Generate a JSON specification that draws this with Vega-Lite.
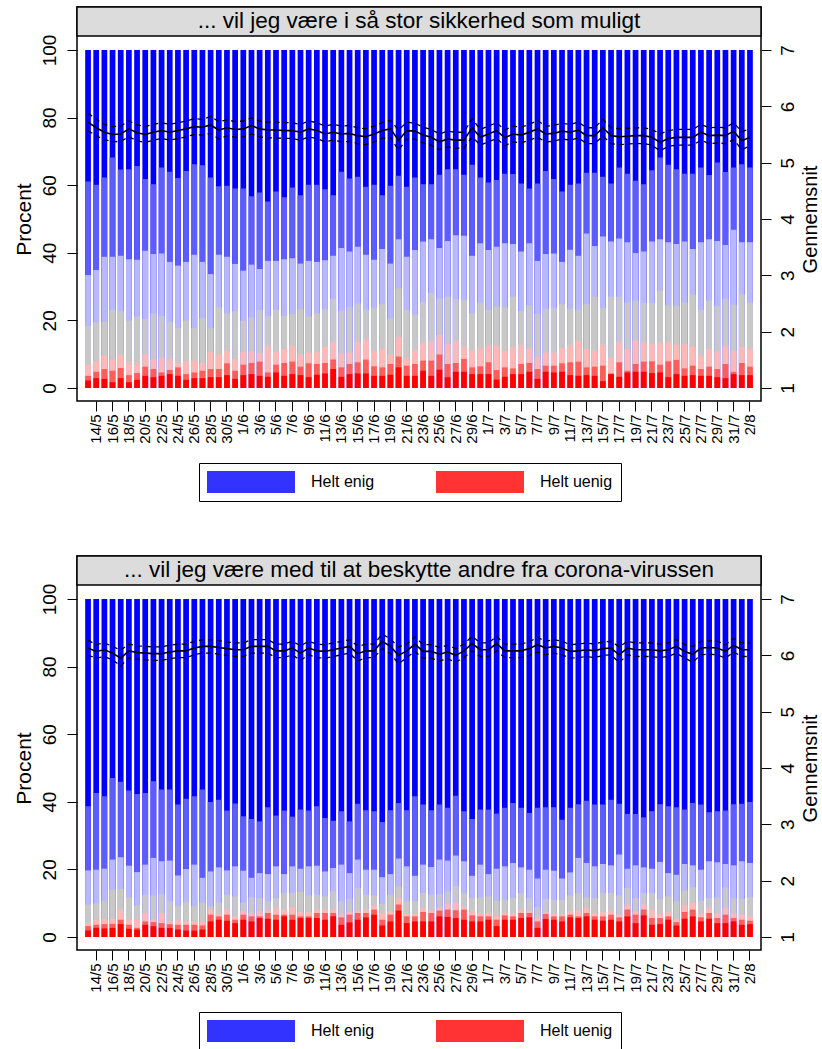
{
"$schema": "https://vega.github.io/schema/vega-lite/v6.json",
"padding": {"left": 12, "top": 5, "right": 2, "bottom": 2},
"bounds": "flush",
"spacing": 155,
"datasets": {
"p1": [
{"d":"13/5","c1":2.2,"c2":3.6,"c3":6.9,"c4":18.4,"c5":33.4,"c6":61.1,"c7":100,"m":5.72,"lo":5.57,"hi":5.88},
{"d":"14/5","c1":2.9,"c2":4.8,"c3":7.9,"c4":19.4,"c5":34.9,"c6":60.1,"c7":100,"m":5.62,"lo":5.48,"hi":5.77},
{"d":"15/5","c1":2.7,"c2":5.6,"c3":9.6,"c4":19.6,"c5":38.8,"c6":62.3,"c7":100,"m":5.54,"lo":5.41,"hi":5.68},
{"d":"16/5","c1":1.7,"c2":5.1,"c3":8.4,"c4":23.1,"c5":38.8,"c6":68.2,"c7":100,"m":5.50,"lo":5.37,"hi":5.64},
{"d":"17/5","c1":2.9,"c2":5.9,"c3":9.9,"c4":22.7,"c5":39.1,"c6":64.6,"c7":100,"m":5.51,"lo":5.38,"hi":5.65},
{"d":"18/5","c1":1.7,"c2":3.8,"c3":7.6,"c4":19.9,"c5":38.1,"c6":64.7,"c7":100,"m":5.60,"lo":5.46,"hi":5.74},
{"d":"19/5","c1":2.4,"c2":4.4,"c3":7.4,"c4":21.1,"c5":37.9,"c6":65.7,"c7":100,"m":5.53,"lo":5.39,"hi":5.67},
{"d":"20/5","c1":3.6,"c2":6.3,"c3":9.9,"c4":20.4,"c5":40.6,"c6":61.8,"c7":100,"m":5.50,"lo":5.36,"hi":5.64},
{"d":"21/5","c1":3.2,"c2":5.6,"c3":8.4,"c4":22.1,"c5":39.6,"c6":60.3,"c7":100,"m":5.54,"lo":5.40,"hi":5.68},
{"d":"22/5","c1":3.6,"c2":4.6,"c3":8.9,"c4":21.3,"c5":39.8,"c6":65.2,"c7":100,"m":5.57,"lo":5.43,"hi":5.71},
{"d":"23/5","c1":4.1,"c2":5.3,"c3":8.6,"c4":19.6,"c5":37.3,"c6":64.0,"c7":100,"m":5.54,"lo":5.40,"hi":5.68},
{"d":"24/5","c1":3.6,"c2":6.1,"c3":7.3,"c4":17.7,"c5":36.2,"c6":62.1,"c7":100,"m":5.57,"lo":5.43,"hi":5.71},
{"d":"25/5","c1":2.4,"c2":4.1,"c3":7.9,"c4":19.9,"c5":37.3,"c6":64.2,"c7":100,"m":5.60,"lo":5.46,"hi":5.74},
{"d":"26/5","c1":2.9,"c2":4.6,"c3":8.1,"c4":17.7,"c5":39.4,"c6":66.2,"c7":100,"m":5.64,"lo":5.50,"hi":5.78},
{"d":"27/5","c1":2.9,"c2":5.1,"c3":7.3,"c4":20.7,"c5":37.3,"c6":65.9,"c7":100,"m":5.63,"lo":5.49,"hi":5.77},
{"d":"28/5","c1":3.2,"c2":5.6,"c3":10.7,"c4":17.7,"c5":33.7,"c6":62.3,"c7":100,"m":5.67,"lo":5.52,"hi":5.82},
{"d":"29/5","c1":3.2,"c2":5.6,"c3":10.0,"c4":23.8,"c5":39.4,"c6":59.7,"c7":100,"m":5.58,"lo":5.42,"hi":5.73},
{"d":"30/5","c1":3.8,"c2":7.3,"c3":11.0,"c4":22.1,"c5":38.8,"c6":59.8,"c7":100,"m":5.62,"lo":5.48,"hi":5.76},
{"d":"31/5","c1":2.7,"c2":5.1,"c3":8.6,"c4":22.7,"c5":36.7,"c6":59.0,"c7":100,"m":5.59,"lo":5.45,"hi":5.73},
{"d":"1/6","c1":3.8,"c2":6.9,"c3":10.7,"c4":19.9,"c5":34.7,"c6":59.0,"c7":100,"m":5.60,"lo":5.46,"hi":5.74},
{"d":"2/6","c1":4.1,"c2":7.4,"c3":10.8,"c4":20.9,"c5":36.5,"c6":56.7,"c7":100,"m":5.66,"lo":5.51,"hi":5.80},
{"d":"3/6","c1":3.6,"c2":7.8,"c3":10.3,"c4":23.1,"c5":35.2,"c6":57.8,"c7":100,"m":5.60,"lo":5.46,"hi":5.74},
{"d":"4/6","c1":3.3,"c2":4.6,"c3":12.5,"c4":21.3,"c5":37.6,"c6":55.2,"c7":100,"m":5.58,"lo":5.44,"hi":5.72},
{"d":"5/6","c1":4.6,"c2":6.9,"c3":10.7,"c4":23.1,"c5":37.6,"c6":58.1,"c7":100,"m":5.58,"lo":5.44,"hi":5.72},
{"d":"6/6","c1":3.6,"c2":7.4,"c3":11.5,"c4":21.3,"c5":38.1,"c6":56.4,"c7":100,"m":5.57,"lo":5.43,"hi":5.71},
{"d":"7/6","c1":4.1,"c2":7.8,"c3":12.5,"c4":21.9,"c5":38.4,"c6":59.3,"c7":100,"m":5.57,"lo":5.43,"hi":5.71},
{"d":"8/6","c1":3.8,"c2":6.3,"c3":10.0,"c4":23.3,"c5":36.8,"c6":57.0,"c7":100,"m":5.54,"lo":5.40,"hi":5.68},
{"d":"9/6","c1":3.2,"c2":7.3,"c3":10.5,"c4":21.1,"c5":37.6,"c6":60.1,"c7":100,"m":5.60,"lo":5.46,"hi":5.74},
{"d":"10/6","c1":3.9,"c2":7.1,"c3":10.5,"c4":22.1,"c5":37.3,"c6":60.1,"c7":100,"m":5.57,"lo":5.43,"hi":5.71},
{"d":"11/6","c1":4.3,"c2":7.4,"c3":12.2,"c4":23.3,"c5":37.8,"c6":58.8,"c7":100,"m":5.51,"lo":5.37,"hi":5.65},
{"d":"12/6","c1":5.6,"c2":8.4,"c3":13.5,"c4":26.3,"c5":39.1,"c6":57.0,"c7":100,"m":5.54,"lo":5.40,"hi":5.68},
{"d":"13/6","c1":3.3,"c2":6.1,"c3":10.2,"c4":22.9,"c5":41.4,"c6":64.0,"c7":100,"m":5.51,"lo":5.37,"hi":5.65},
{"d":"14/6","c1":4.1,"c2":7.1,"c3":10.5,"c4":24.0,"c5":40.4,"c6":62.0,"c7":100,"m":5.52,"lo":5.38,"hi":5.66},
{"d":"15/6","c1":4.3,"c2":7.6,"c3":13.5,"c4":25.0,"c5":41.8,"c6":62.5,"c7":100,"m":5.48,"lo":5.34,"hi":5.62},
{"d":"16/6","c1":4.3,"c2":8.4,"c3":14.4,"c4":23.1,"c5":39.4,"c6":59.5,"c7":100,"m":5.46,"lo":5.32,"hi":5.60},
{"d":"17/6","c1":3.6,"c2":6.4,"c3":11.0,"c4":23.8,"c5":37.9,"c6":60.1,"c7":100,"m":5.51,"lo":5.37,"hi":5.65},
{"d":"18/6","c1":3.6,"c2":6.1,"c3":11.5,"c4":24.8,"c5":41.1,"c6":57.0,"c7":100,"m":5.57,"lo":5.43,"hi":5.71},
{"d":"19/6","c1":3.9,"c2":7.1,"c3":9.9,"c4":20.6,"c5":36.8,"c6":59.8,"c7":100,"m":5.60,"lo":5.45,"hi":5.75},
{"d":"20/6","c1":6.1,"c2":9.3,"c3":15.0,"c4":29.5,"c5":44.0,"c6":62.8,"c7":100,"m":5.40,"lo":5.22,"hi":5.58},
{"d":"21/6","c1":3.6,"c2":6.6,"c3":8.6,"c4":23.1,"c5":38.8,"c6":59.5,"c7":100,"m":5.57,"lo":5.42,"hi":5.72},
{"d":"22/6","c1":3.6,"c2":7.1,"c3":11.2,"c4":21.7,"c5":40.8,"c6":62.3,"c7":100,"m":5.56,"lo":5.42,"hi":5.70},
{"d":"23/6","c1":5.1,"c2":8.1,"c3":13.5,"c4":25.5,"c5":43.3,"c6":60.3,"c7":100,"m":5.49,"lo":5.35,"hi":5.63},
{"d":"24/6","c1":3.6,"c2":8.1,"c3":13.7,"c4":28.1,"c5":44.0,"c6":60.3,"c7":100,"m":5.45,"lo":5.31,"hi":5.59},
{"d":"25/6","c1":5.4,"c2":9.9,"c3":15.7,"c4":26.5,"c5":41.4,"c6":63.1,"c7":100,"m":5.37,"lo":5.23,"hi":5.51},
{"d":"26/6","c1":3.2,"c2":7.1,"c3":13.0,"c4":27.0,"c5":43.5,"c6":64.7,"c7":100,"m":5.42,"lo":5.28,"hi":5.56},
{"d":"27/6","c1":4.8,"c2":7.4,"c3":14.0,"c4":26.3,"c5":45.2,"c6":64.7,"c7":100,"m":5.40,"lo":5.26,"hi":5.54},
{"d":"28/6","c1":4.8,"c2":8.6,"c3":12.2,"c4":26.1,"c5":45.0,"c6":63.1,"c7":100,"m":5.40,"lo":5.26,"hi":5.54},
{"d":"29/6","c1":4.1,"c2":6.1,"c3":11.2,"c4":22.1,"c5":39.1,"c6":66.0,"c7":100,"m":5.62,"lo":5.46,"hi":5.78},
{"d":"30/6","c1":4.1,"c2":6.4,"c3":11.8,"c4":25.3,"c5":42.8,"c6":62.3,"c7":100,"m":5.45,"lo":5.31,"hi":5.59},
{"d":"1/7","c1":4.1,"c2":7.6,"c3":12.5,"c4":23.1,"c5":40.8,"c6":60.8,"c7":100,"m":5.51,"lo":5.37,"hi":5.65},
{"d":"2/7","c1":2.5,"c2":5.3,"c3":12.5,"c4":24.0,"c5":41.8,"c6":61.5,"c7":100,"m":5.57,"lo":5.43,"hi":5.71},
{"d":"3/7","c1":3.3,"c2":6.1,"c3":11.0,"c4":23.8,"c5":42.8,"c6":63.4,"c7":100,"m":5.44,"lo":5.30,"hi":5.58},
{"d":"4/7","c1":4.1,"c2":5.8,"c3":12.0,"c4":27.0,"c5":42.6,"c6":63.3,"c7":100,"m":5.51,"lo":5.37,"hi":5.65},
{"d":"5/7","c1":4.1,"c2":7.1,"c3":12.8,"c4":22.7,"c5":40.4,"c6":60.5,"c7":100,"m":5.49,"lo":5.35,"hi":5.63},
{"d":"6/7","c1":4.8,"c2":7.4,"c3":11.7,"c4":24.5,"c5":42.8,"c6":59.0,"c7":100,"m":5.54,"lo":5.40,"hi":5.68},
{"d":"7/7","c1":2.7,"c2":5.6,"c3":9.1,"c4":21.9,"c5":37.6,"c6":60.5,"c7":100,"m":5.60,"lo":5.45,"hi":5.75},
{"d":"8/7","c1":4.8,"c2":6.6,"c3":10.5,"c4":23.5,"c5":39.6,"c6":64.2,"c7":100,"m":5.51,"lo":5.37,"hi":5.65},
{"d":"9/7","c1":4.6,"c2":6.6,"c3":10.5,"c4":23.8,"c5":39.8,"c6":61.8,"c7":100,"m":5.52,"lo":5.38,"hi":5.66},
{"d":"10/7","c1":4.8,"c2":7.3,"c3":11.8,"c4":24.8,"c5":37.3,"c6":58.1,"c7":100,"m":5.56,"lo":5.42,"hi":5.70},
{"d":"11/7","c1":3.8,"c2":7.6,"c3":12.5,"c4":23.5,"c5":40.9,"c6":60.1,"c7":100,"m":5.54,"lo":5.40,"hi":5.68},
{"d":"12/7","c1":3.6,"c2":7.8,"c3":14.0,"c4":23.1,"c5":39.1,"c6":60.5,"c7":100,"m":5.58,"lo":5.44,"hi":5.72},
{"d":"13/7","c1":3.8,"c2":6.1,"c3":11.5,"c4":24.8,"c5":45.7,"c6":63.7,"c7":100,"m":5.48,"lo":5.34,"hi":5.62},
{"d":"14/7","c1":3.6,"c2":6.3,"c3":11.0,"c4":27.0,"c5":42.0,"c6":63.7,"c7":100,"m":5.48,"lo":5.34,"hi":5.62},
{"d":"15/7","c1":2.0,"c2":6.6,"c3":12.8,"c4":23.6,"c5":44.8,"c6":62.5,"c7":100,"m":5.62,"lo":5.47,"hi":5.77},
{"d":"16/7","c1":4.1,"c2":4.3,"c3":8.9,"c4":27.0,"c5":43.3,"c6":60.5,"c7":100,"m":5.48,"lo":5.34,"hi":5.62},
{"d":"17/7","c1":3.3,"c2":7.6,"c3":13.7,"c4":27.0,"c5":44.2,"c6":65.2,"c7":100,"m":5.46,"lo":5.32,"hi":5.60},
{"d":"18/7","c1":4.6,"c2":5.1,"c3":11.5,"c4":25.3,"c5":43.1,"c6":63.4,"c7":100,"m":5.47,"lo":5.33,"hi":5.61},
{"d":"19/7","c1":4.8,"c2":7.1,"c3":14.0,"c4":25.8,"c5":39.9,"c6":61.3,"c7":100,"m":5.48,"lo":5.34,"hi":5.62},
{"d":"20/7","c1":4.8,"c2":7.8,"c3":13.5,"c4":25.2,"c5":40.4,"c6":60.3,"c7":100,"m":5.48,"lo":5.34,"hi":5.62},
{"d":"21/7","c1":4.4,"c2":7.9,"c3":13.0,"c4":25.2,"c5":43.3,"c6":64.4,"c7":100,"m":5.45,"lo":5.31,"hi":5.59},
{"d":"22/7","c1":4.6,"c2":6.9,"c3":13.4,"c4":28.8,"c5":44.0,"c6":68.2,"c7":100,"m":5.36,"lo":5.21,"hi":5.51},
{"d":"23/7","c1":3.2,"c2":7.9,"c3":13.5,"c4":24.5,"c5":43.1,"c6":66.0,"c7":100,"m":5.43,"lo":5.29,"hi":5.57},
{"d":"24/7","c1":4.1,"c2":8.3,"c3":12.8,"c4":24.3,"c5":42.6,"c6":64.7,"c7":100,"m":5.45,"lo":5.31,"hi":5.59},
{"d":"25/7","c1":3.6,"c2":5.8,"c3":13.0,"c4":25.3,"c5":43.3,"c6":63.4,"c7":100,"m":5.45,"lo":5.31,"hi":5.59},
{"d":"26/7","c1":3.8,"c2":6.6,"c3":12.2,"c4":27.6,"c5":41.1,"c6":63.4,"c7":100,"m":5.45,"lo":5.31,"hi":5.59},
{"d":"27/7","c1":3.6,"c2":5.6,"c3":9.6,"c4":23.1,"c5":43.1,"c6":65.2,"c7":100,"m":5.54,"lo":5.40,"hi":5.68},
{"d":"28/7","c1":3.6,"c2":6.3,"c3":11.5,"c4":25.8,"c5":44.0,"c6":63.0,"c7":100,"m":5.48,"lo":5.34,"hi":5.62},
{"d":"29/7","c1":3.2,"c2":5.6,"c3":10.8,"c4":24.3,"c5":43.5,"c6":66.7,"c7":100,"m":5.49,"lo":5.35,"hi":5.63},
{"d":"30/7","c1":2.9,"c2":7.1,"c3":12.5,"c4":26.3,"c5":42.3,"c6":63.9,"c7":100,"m":5.48,"lo":5.34,"hi":5.62},
{"d":"31/7","c1":4.1,"c2":4.8,"c3":11.0,"c4":24.6,"c5":46.8,"c6":65.2,"c7":100,"m":5.56,"lo":5.41,"hi":5.71},
{"d":"1/8","c1":3.8,"c2":7.4,"c3":12.2,"c4":27.6,"c5":43.1,"c6":66.2,"c7":100,"m":5.39,"lo":5.23,"hi":5.55},
{"d":"2/8","c1":3.8,"c2":6.3,"c3":11.5,"c4":25.3,"c5":43.1,"c6":65.2,"c7":100,"m":5.45,"lo":5.30,"hi":5.60}
],
"p2": [
{"d":"13/5","c1":1.9,"c2":3.2,"c3":4.1,"c4":9.6,"c5":19.7,"c6":38.7,"c7":100,"m":6.13,"lo":6.00,"hi":6.27},
{"d":"14/5","c1":2.7,"c2":3.6,"c3":5.1,"c4":9.9,"c5":19.9,"c6":42.6,"c7":100,"m":6.07,"lo":5.95,"hi":6.19},
{"d":"15/5","c1":2.5,"c2":3.8,"c3":5.4,"c4":10.6,"c5":20.2,"c6":41.6,"c7":100,"m":6.10,"lo":5.98,"hi":6.22},
{"d":"16/5","c1":2.7,"c2":3.9,"c3":5.3,"c4":14.0,"c5":22.9,"c6":47.0,"c7":100,"m":6.04,"lo":5.92,"hi":6.16},
{"d":"17/5","c1":3.8,"c2":5.1,"c3":8.1,"c4":14.2,"c5":23.6,"c6":45.9,"c7":100,"m":5.95,"lo":5.81,"hi":6.09},
{"d":"18/5","c1":2.4,"c2":3.6,"c3":5.1,"c4":11.7,"c5":21.1,"c6":43.3,"c7":100,"m":6.08,"lo":5.96,"hi":6.20},
{"d":"19/5","c1":2.2,"c2":2.7,"c3":5.1,"c4":9.4,"c5":19.2,"c6":42.3,"c7":100,"m":6.05,"lo":5.93,"hi":6.17},
{"d":"20/5","c1":3.6,"c2":4.6,"c3":7.1,"c4":12.5,"c5":21.4,"c6":42.6,"c7":100,"m":6.04,"lo":5.92,"hi":6.16},
{"d":"21/5","c1":3.2,"c2":4.4,"c3":5.1,"c4":12.3,"c5":23.4,"c6":46.1,"c7":100,"m":6.03,"lo":5.91,"hi":6.15},
{"d":"22/5","c1":2.7,"c2":4.1,"c3":7.1,"c4":12.7,"c5":22.4,"c6":43.6,"c7":100,"m":6.03,"lo":5.91,"hi":6.15},
{"d":"23/5","c1":2.7,"c2":3.8,"c3":4.6,"c4":10.6,"c5":22.6,"c6":43.6,"c7":100,"m":6.06,"lo":5.94,"hi":6.18},
{"d":"24/5","c1":2.2,"c2":3.6,"c3":5.1,"c4":9.1,"c5":18.2,"c6":39.2,"c7":100,"m":6.08,"lo":5.96,"hi":6.20},
{"d":"25/5","c1":1.9,"c2":3.6,"c3":4.6,"c4":10.4,"c5":20.1,"c6":40.9,"c7":100,"m":6.08,"lo":5.96,"hi":6.20},
{"d":"26/5","c1":1.9,"c2":3.6,"c3":4.6,"c4":9.1,"c5":21.4,"c6":41.6,"c7":100,"m":6.13,"lo":6.01,"hi":6.25},
{"d":"27/5","c1":2.2,"c2":3.4,"c3":4.6,"c4":10.1,"c5":17.5,"c6":43.6,"c7":100,"m":6.16,"lo":6.04,"hi":6.28},
{"d":"28/5","c1":4.6,"c2":6.6,"c3":8.1,"c4":9.1,"c5":19.4,"c6":39.9,"c7":100,"m":6.16,"lo":6.04,"hi":6.28},
{"d":"29/5","c1":5.1,"c2":6.1,"c3":6.8,"c4":10.1,"c5":20.6,"c6":40.6,"c7":100,"m":6.14,"lo":6.02,"hi":6.26},
{"d":"30/5","c1":4.8,"c2":6.6,"c3":8.1,"c4":12.5,"c5":19.7,"c6":37.4,"c7":100,"m":6.12,"lo":6.00,"hi":6.24},
{"d":"31/5","c1":4.1,"c2":5.1,"c3":6.1,"c4":12.0,"c5":20.9,"c6":39.5,"c7":100,"m":6.10,"lo":5.98,"hi":6.22},
{"d":"1/6","c1":5.1,"c2":6.6,"c3":7.6,"c4":10.1,"c5":19.6,"c6":35.7,"c7":100,"m":6.10,"lo":5.98,"hi":6.22},
{"d":"2/6","c1":4.6,"c2":6.1,"c3":7.1,"c4":11.7,"c5":17.5,"c6":34.9,"c7":100,"m":6.16,"lo":6.04,"hi":6.28},
{"d":"3/6","c1":5.6,"c2":6.1,"c3":7.8,"c4":11.5,"c5":18.9,"c6":34.2,"c7":100,"m":6.16,"lo":6.04,"hi":6.28},
{"d":"4/6","c1":5.4,"c2":7.1,"c3":7.8,"c4":10.6,"c5":18.6,"c6":38.4,"c7":100,"m":6.16,"lo":6.04,"hi":6.28},
{"d":"5/6","c1":5.1,"c2":6.6,"c3":8.6,"c4":11.5,"c5":20.9,"c6":35.9,"c7":100,"m":6.08,"lo":5.96,"hi":6.20},
{"d":"6/6","c1":6.1,"c2":6.6,"c3":7.9,"c4":13.0,"c5":18.6,"c6":37.4,"c7":100,"m":6.08,"lo":5.96,"hi":6.20},
{"d":"7/6","c1":5.1,"c2":6.6,"c3":8.8,"c4":13.0,"c5":20.9,"c6":35.6,"c7":100,"m":6.13,"lo":6.01,"hi":6.25},
{"d":"8/6","c1":5.6,"c2":6.1,"c3":7.4,"c4":13.3,"c5":20.2,"c6":37.7,"c7":100,"m":6.04,"lo":5.91,"hi":6.17},
{"d":"9/6","c1":5.6,"c2":6.1,"c3":7.4,"c4":12.3,"c5":20.9,"c6":37.4,"c7":100,"m":6.13,"lo":6.01,"hi":6.25},
{"d":"10/6","c1":5.6,"c2":7.1,"c3":8.1,"c4":12.5,"c5":21.1,"c6":38.7,"c7":100,"m":6.08,"lo":5.96,"hi":6.20},
{"d":"11/6","c1":5.1,"c2":7.1,"c3":8.1,"c4":12.0,"c5":19.4,"c6":35.2,"c7":100,"m":6.07,"lo":5.95,"hi":6.19},
{"d":"12/6","c1":6.1,"c2":7.1,"c3":8.1,"c4":13.5,"c5":20.4,"c6":34.4,"c7":100,"m":6.10,"lo":5.98,"hi":6.22},
{"d":"13/6","c1":3.6,"c2":5.8,"c3":6.6,"c4":10.6,"c5":21.4,"c6":37.2,"c7":100,"m":6.13,"lo":6.01,"hi":6.25},
{"d":"14/6","c1":4.3,"c2":6.6,"c3":7.4,"c4":11.3,"c5":18.9,"c6":34.2,"c7":100,"m":6.16,"lo":6.04,"hi":6.28},
{"d":"15/6","c1":5.1,"c2":7.1,"c3":7.8,"c4":14.5,"c5":22.9,"c6":39.4,"c7":100,"m":6.03,"lo":5.90,"hi":6.16},
{"d":"16/6","c1":5.8,"c2":7.1,"c3":8.1,"c4":12.5,"c5":19.9,"c6":37.5,"c7":100,"m":6.08,"lo":5.96,"hi":6.20},
{"d":"17/6","c1":6.6,"c2":8.1,"c3":9.1,"c4":12.3,"c5":19.9,"c6":37.2,"c7":100,"m":6.08,"lo":5.96,"hi":6.20},
{"d":"18/6","c1":3.4,"c2":5.1,"c3":7.1,"c4":9.8,"c5":17.7,"c6":34.0,"c7":100,"m":6.25,"lo":6.12,"hi":6.38},
{"d":"19/6","c1":4.6,"c2":6.6,"c3":7.6,"c4":12.5,"c5":18.6,"c6":37.5,"c7":100,"m":6.16,"lo":6.03,"hi":6.29},
{"d":"20/6","c1":7.8,"c2":9.6,"c3":11.5,"c4":15.0,"c5":23.2,"c6":39.6,"c7":100,"m":6.00,"lo":5.85,"hi":6.15},
{"d":"21/6","c1":4.1,"c2":6.1,"c3":7.1,"c4":10.6,"c5":20.9,"c6":37.5,"c7":100,"m":6.08,"lo":5.96,"hi":6.20},
{"d":"22/6","c1":4.6,"c2":6.1,"c3":6.8,"c4":10.6,"c5":18.1,"c6":41.6,"c7":100,"m":6.20,"lo":6.07,"hi":6.33},
{"d":"23/6","c1":4.6,"c2":7.4,"c3":8.6,"c4":13.0,"c5":21.4,"c6":39.2,"c7":100,"m":6.07,"lo":5.95,"hi":6.19},
{"d":"24/6","c1":4.6,"c2":7.1,"c3":7.9,"c4":12.5,"c5":20.7,"c6":37.5,"c7":100,"m":6.07,"lo":5.95,"hi":6.19},
{"d":"25/6","c1":6.1,"c2":7.8,"c3":8.6,"c4":12.7,"c5":22.9,"c6":39.2,"c7":100,"m":6.02,"lo":5.90,"hi":6.14},
{"d":"26/6","c1":5.9,"c2":8.1,"c3":9.8,"c4":13.5,"c5":22.6,"c6":38.2,"c7":100,"m":6.06,"lo":5.94,"hi":6.18},
{"d":"27/6","c1":5.6,"c2":7.9,"c3":10.1,"c4":15.0,"c5":24.1,"c6":41.8,"c7":100,"m":6.00,"lo":5.88,"hi":6.12},
{"d":"28/6","c1":5.1,"c2":8.1,"c3":8.8,"c4":12.9,"c5":22.4,"c6":37.2,"c7":100,"m":6.08,"lo":5.96,"hi":6.20},
{"d":"29/6","c1":4.6,"c2":6.4,"c3":7.6,"c4":11.5,"c5":18.1,"c6":34.9,"c7":100,"m":6.21,"lo":6.08,"hi":6.34},
{"d":"30/6","c1":4.6,"c2":6.1,"c3":7.1,"c4":11.7,"c5":21.4,"c6":37.7,"c7":100,"m":6.10,"lo":5.98,"hi":6.22},
{"d":"1/7","c1":5.1,"c2":6.1,"c3":7.1,"c4":12.0,"c5":18.6,"c6":37.7,"c7":100,"m":6.10,"lo":5.98,"hi":6.22},
{"d":"2/7","c1":3.2,"c2":5.1,"c3":6.4,"c4":10.7,"c5":20.2,"c6":36.5,"c7":100,"m":6.21,"lo":6.08,"hi":6.34},
{"d":"3/7","c1":5.1,"c2":6.4,"c3":7.1,"c4":11.0,"c5":20.9,"c6":38.2,"c7":100,"m":6.08,"lo":5.96,"hi":6.20},
{"d":"4/7","c1":5.1,"c2":6.1,"c3":7.1,"c4":11.5,"c5":21.9,"c6":39.6,"c7":100,"m":6.08,"lo":5.96,"hi":6.20},
{"d":"5/7","c1":5.6,"c2":7.1,"c3":8.1,"c4":13.0,"c5":20.6,"c6":38.2,"c7":100,"m":6.08,"lo":5.96,"hi":6.20},
{"d":"6/7","c1":5.8,"c2":7.1,"c3":7.8,"c4":11.5,"c5":19.9,"c6":36.7,"c7":100,"m":6.12,"lo":6.00,"hi":6.24},
{"d":"7/7","c1":2.7,"c2":4.6,"c3":5.8,"c4":8.8,"c5":17.3,"c6":38.2,"c7":100,"m":6.19,"lo":6.06,"hi":6.32},
{"d":"8/7","c1":5.3,"c2":6.8,"c3":7.3,"c4":11.3,"c5":19.9,"c6":38.4,"c7":100,"m":6.13,"lo":6.01,"hi":6.25},
{"d":"9/7","c1":5.1,"c2":6.1,"c3":6.8,"c4":11.0,"c5":19.6,"c6":38.4,"c7":100,"m":6.16,"lo":6.04,"hi":6.28},
{"d":"10/7","c1":4.6,"c2":6.1,"c3":6.6,"c4":11.0,"c5":17.3,"c6":34.7,"c7":100,"m":6.13,"lo":6.01,"hi":6.25},
{"d":"11/7","c1":5.8,"c2":6.6,"c3":7.6,"c4":12.3,"c5":19.1,"c6":38.2,"c7":100,"m":6.07,"lo":5.95,"hi":6.19},
{"d":"12/7","c1":5.6,"c2":6.1,"c3":7.8,"c4":13.0,"c5":23.4,"c6":39.3,"c7":100,"m":6.08,"lo":5.96,"hi":6.20},
{"d":"13/7","c1":6.1,"c2":7.1,"c3":8.6,"c4":11.7,"c5":21.9,"c6":40.3,"c7":100,"m":6.10,"lo":5.98,"hi":6.22},
{"d":"14/7","c1":5.1,"c2":6.1,"c3":7.1,"c4":11.5,"c5":20.9,"c6":39.2,"c7":100,"m":6.08,"lo":5.96,"hi":6.20},
{"d":"15/7","c1":4.8,"c2":6.1,"c3":7.4,"c4":13.0,"c5":21.6,"c6":39.2,"c7":100,"m":6.12,"lo":6.00,"hi":6.24},
{"d":"16/7","c1":5.1,"c2":6.6,"c3":7.8,"c4":13.0,"c5":21.2,"c6":40.6,"c7":100,"m":6.13,"lo":6.01,"hi":6.25},
{"d":"17/7","c1":4.6,"c2":5.8,"c3":6.6,"c4":12.3,"c5":24.4,"c6":39.4,"c7":100,"m":6.01,"lo":5.87,"hi":6.15},
{"d":"18/7","c1":6.1,"c2":8.1,"c3":9.6,"c4":14.5,"c5":20.2,"c6":36.4,"c7":100,"m":6.13,"lo":6.01,"hi":6.25},
{"d":"19/7","c1":4.1,"c2":6.6,"c3":7.6,"c4":11.5,"c5":21.2,"c6":36.4,"c7":100,"m":6.10,"lo":5.98,"hi":6.22},
{"d":"20/7","c1":6.4,"c2":8.1,"c3":9.6,"c4":13.0,"c5":20.6,"c6":35.4,"c7":100,"m":6.10,"lo":5.98,"hi":6.22},
{"d":"21/7","c1":3.6,"c2":5.6,"c3":8.1,"c4":13.0,"c5":20.2,"c6":37.2,"c7":100,"m":6.10,"lo":5.98,"hi":6.22},
{"d":"22/7","c1":3.8,"c2":5.6,"c3":6.8,"c4":11.3,"c5":22.2,"c6":39.3,"c7":100,"m":6.08,"lo":5.96,"hi":6.20},
{"d":"23/7","c1":5.1,"c2":6.1,"c3":7.4,"c4":12.0,"c5":18.9,"c6":38.7,"c7":100,"m":6.10,"lo":5.98,"hi":6.22},
{"d":"24/7","c1":3.4,"c2":4.4,"c3":5.4,"c4":10.6,"c5":18.4,"c6":38.4,"c7":100,"m":6.16,"lo":6.04,"hi":6.28},
{"d":"25/7","c1":5.4,"c2":7.4,"c3":9.4,"c4":13.7,"c5":21.6,"c6":37.7,"c7":100,"m":6.07,"lo":5.95,"hi":6.19},
{"d":"26/7","c1":6.1,"c2":8.1,"c3":10.1,"c4":14.7,"c5":21.2,"c6":39.6,"c7":100,"m":6.02,"lo":5.88,"hi":6.16},
{"d":"27/7","c1":4.6,"c2":5.8,"c3":6.8,"c4":10.7,"c5":19.9,"c6":39.2,"c7":100,"m":6.13,"lo":6.01,"hi":6.25},
{"d":"28/7","c1":5.4,"c2":7.1,"c3":8.6,"c4":11.5,"c5":22.4,"c6":36.9,"c7":100,"m":6.14,"lo":6.02,"hi":6.26},
{"d":"29/7","c1":4.1,"c2":5.6,"c3":7.1,"c4":11.7,"c5":22.1,"c6":37.2,"c7":100,"m":6.13,"lo":6.01,"hi":6.25},
{"d":"30/7","c1":4.1,"c2":6.6,"c3":8.6,"c4":14.7,"c5":21.6,"c6":37.4,"c7":100,"m":6.07,"lo":5.95,"hi":6.19},
{"d":"31/7","c1":4.6,"c2":5.6,"c3":7.1,"c4":11.5,"c5":21.2,"c6":39.3,"c7":100,"m":6.18,"lo":6.06,"hi":6.30},
{"d":"1/8","c1":3.6,"c2":5.1,"c3":6.6,"c4":11.3,"c5":22.4,"c6":39.4,"c7":100,"m":6.10,"lo":5.98,"hi":6.22},
{"d":"2/8","c1":3.8,"c2":4.8,"c3":6.1,"c4":11.7,"c5":21.9,"c6":39.9,"c7":100,"m":6.10,"lo":5.98,"hi":6.22}
]
},
"vconcat": [
{
 "width": 684, "height": 394,
 "layer": [
  {
   "layer": [
    {
     "data": {"name": "p1"},
     "transform": [{"fold": ["c7","c6","c5","c4","c3","c2","c1"], "as": ["k","v"]}],
     "mark": {"type": "bar"},
     "encoding": {
      "x": {"field": "d", "type": "ordinal", "scale": {"domain": ["13/5","14/5","15/5","16/5","17/5","18/5","19/5","20/5","21/5","22/5","23/5","24/5","25/5","26/5","27/5","28/5","29/5","30/5","31/5","1/6","2/6","3/6","4/6","5/6","6/6","7/6","8/6","9/6","10/6","11/6","12/6","13/6","14/6","15/6","16/6","17/6","18/6","19/6","20/6","21/6","22/6","23/6","24/6","25/6","26/6","27/6","28/6","29/6","30/6","1/7","2/7","3/7","4/7","5/7","6/7","7/7","8/7","9/7","10/7","11/7","12/7","13/7","14/7","15/7","16/7","17/7","18/7","19/7","20/7","21/7","22/7","23/7","24/7","25/7","26/7","27/7","28/7","29/7","30/7","31/7","1/8","2/8"], "paddingInner": 0.3, "paddingOuter": 1.6},
       "axis": {"title": null, "values": ["14/5","16/5","18/5","20/5","22/5","24/5","26/5","28/5","30/5","1/6","3/6","5/6","7/6","9/6","11/6","13/6","15/6","17/6","19/6","21/6","23/6","25/6","27/6","29/6","1/7","3/7","5/7","7/7","9/7","11/7","13/7","15/7","17/7","19/7","21/7","23/7","25/7","27/7","29/7","31/7","2/8"], "labelAngle": -90, "labelFontSize": 15, "tickSize": 10, "labelPadding": 3, "labelOverlap": false}},
      "y": {"field": "v", "type": "quantitative", "stack": null, "scale": {"domain": [-3.85, 112.7], "nice": false, "zero": false},
       "axis": {"title": "Procent", "values": [0,20,40,60,80,100], "labelAngle": -90, "labelAlign": "center", "labelBaseline": "bottom", "labelFontSize": 19, "tickSize": 10, "labelPadding": 8, "titleFontSize": 21, "titlePadding": 6, "titleY": 212}},
      "y2": {"datum": 0},
      "color": {"field": "k", "type": "nominal", "scale": {"domain": ["c7","c6","c5","c4","c3","c2","c1"], "range": ["#0000FF","#5C5CFF","#B8B8FF","#C8C8C8","#FFB8B8","#FF5C5C","#FF0000"]},
       "legend": {"orient": "none", "legendX": 122, "legendY": 456, "direction": "horizontal", "values": ["c7","c1"], "labelExpr": "datum.value == 'c7' ? 'Helt enig' : 'Helt uenig'", "title": null, "symbolType": "M-1,-1H7V1H-1Z", "symbolSize": 484, "symbolOpacity": 0.8, "symbolStrokeWidth": 0, "labelFontSize": 16, "labelOffset": 82, "columnPadding": 61, "strokeColor": "black", "padding": 8}},
      "order": {"field": "v", "type": "quantitative", "sort": "descending"}
     }
    },
    {
     "data": {"values": [{"t": "... vil jeg være i så stor sikkerhed som muligt"}]},
     "mark": {"type": "rect", "fill": "#DCDCDC", "stroke": "black", "strokeWidth": 1.5},
     "encoding": {"y": {"datum": 104.14}, "y2": {"datum": 112.7}}
    },
    {
     "data": {"values": [{"t": "... vil jeg være i så stor sikkerhed som muligt"}]},
     "mark": {"type": "text", "fontSize": 22.5, "baseline": "middle", "align": "center", "color": "black"},
     "encoding": {"y": {"datum": 108.42}, "text": {"field": "t"}}
    }
   ]
  },
  {
   "data": {"name": "p1"},
   "encoding": {
    "x": {"field": "d", "type": "ordinal", "title": null, "scale": {"domain": ["13/5","14/5","15/5","16/5","17/5","18/5","19/5","20/5","21/5","22/5","23/5","24/5","25/5","26/5","27/5","28/5","29/5","30/5","31/5","1/6","2/6","3/6","4/6","5/6","6/6","7/6","8/6","9/6","10/6","11/6","12/6","13/6","14/6","15/6","16/6","17/6","18/6","19/6","20/6","21/6","22/6","23/6","24/6","25/6","26/6","27/6","28/6","29/6","30/6","1/7","2/7","3/7","4/7","5/7","6/7","7/7","8/7","9/7","10/7","11/7","12/7","13/7","14/7","15/7","16/7","17/7","18/7","19/7","20/7","21/7","22/7","23/7","24/7","25/7","26/7","27/7","28/7","29/7","30/7","31/7","1/8","2/8"], "paddingInner": 0.3, "paddingOuter": 1.6}},
    "order": {"value": null}
   },
   "layer": [
    {
     "mark": {"type": "line", "color": "black", "strokeWidth": 1.6},
     "encoding": {"y": {"field": "m", "type": "quantitative", "scale": {"domain": [0.769, 7.764], "nice": false, "zero": false},
      "axis": {"orient": "right", "title": "Gennemsnit", "values": [1,2,3,4,5,6,7], "labelAngle": -90, "labelAlign": "center", "labelBaseline": "top", "labelFontSize": 19, "tickSize": 10, "labelPadding": 7, "titleFontSize": 20, "titleAngle": -90, "titleBaseline": "top", "titlePadding": 3, "titleY": 212}}}
    },
    {
     "transform": [{"fold": ["lo","hi"], "as": ["ck","cv"]}],
     "mark": {"type": "line", "color": "black", "strokeWidth": 1.3, "strokeDash": [5,4]},
     "encoding": {"y": {"field": "cv", "type": "quantitative", "scale": {"domain": [0.769, 7.764], "nice": false, "zero": false},
      "axis": {"orient": "right", "title": "Gennemsnit", "values": [1,2,3,4,5,6,7], "labelAngle": -90, "labelAlign": "center", "labelBaseline": "top", "labelFontSize": 19, "tickSize": 10, "labelPadding": 7, "titleFontSize": 20, "titleAngle": -90, "titleBaseline": "top", "titlePadding": 3, "titleY": 212}},
      "detail": {"field": "ck"}}
    }
   ]
  }
 ],
 "resolve": {"scale": {"y": "independent"}}
},
{
 "width": 684, "height": 394,
 "layer": [
  {
   "layer": [
    {
     "data": {"name": "p2"},
     "transform": [{"fold": ["c7","c6","c5","c4","c3","c2","c1"], "as": ["k","v"]}],
     "mark": {"type": "bar"},
     "encoding": {
      "x": {"field": "d", "type": "ordinal", "scale": {"domain": ["13/5","14/5","15/5","16/5","17/5","18/5","19/5","20/5","21/5","22/5","23/5","24/5","25/5","26/5","27/5","28/5","29/5","30/5","31/5","1/6","2/6","3/6","4/6","5/6","6/6","7/6","8/6","9/6","10/6","11/6","12/6","13/6","14/6","15/6","16/6","17/6","18/6","19/6","20/6","21/6","22/6","23/6","24/6","25/6","26/6","27/6","28/6","29/6","30/6","1/7","2/7","3/7","4/7","5/7","6/7","7/7","8/7","9/7","10/7","11/7","12/7","13/7","14/7","15/7","16/7","17/7","18/7","19/7","20/7","21/7","22/7","23/7","24/7","25/7","26/7","27/7","28/7","29/7","30/7","31/7","1/8","2/8"], "paddingInner": 0.3, "paddingOuter": 1.6},
       "axis": {"title": null, "values": ["14/5","16/5","18/5","20/5","22/5","24/5","26/5","28/5","30/5","1/6","3/6","5/6","7/6","9/6","11/6","13/6","15/6","17/6","19/6","21/6","23/6","25/6","27/6","29/6","1/7","3/7","5/7","7/7","9/7","11/7","13/7","15/7","17/7","19/7","21/7","23/7","25/7","27/7","29/7","31/7","2/8"], "labelAngle": -90, "labelFontSize": 15, "tickSize": 10, "labelPadding": 3, "labelOverlap": false}},
      "y": {"field": "v", "type": "quantitative", "stack": null, "scale": {"domain": [-3.85, 112.7], "nice": false, "zero": false},
       "axis": {"title": "Procent", "values": [0,20,40,60,80,100], "labelAngle": -90, "labelAlign": "center", "labelBaseline": "bottom", "labelFontSize": 19, "tickSize": 10, "labelPadding": 8, "titleFontSize": 21, "titlePadding": 6, "titleY": 212}},
      "y2": {"datum": 0},
      "color": {"field": "k", "type": "nominal", "scale": {"domain": ["c7","c6","c5","c4","c3","c2","c1"], "range": ["#0000FF","#5C5CFF","#B8B8FF","#C8C8C8","#FFB8B8","#FF5C5C","#FF0000"]},
       "legend": {"orient": "none", "legendX": 122, "legendY": 456, "direction": "horizontal", "values": ["c7","c1"], "labelExpr": "datum.value == 'c7' ? 'Helt enig' : 'Helt uenig'", "title": null, "symbolType": "M-1,-1H7V1H-1Z", "symbolSize": 484, "symbolOpacity": 0.8, "symbolStrokeWidth": 0, "labelFontSize": 16, "labelOffset": 82, "columnPadding": 61, "strokeColor": "black", "padding": 8}},
      "order": {"field": "v", "type": "quantitative", "sort": "descending"}
     }
    },
    {
     "data": {"values": [{"t": "... vil jeg være med til at beskytte andre fra corona-virussen"}]},
     "mark": {"type": "rect", "fill": "#DCDCDC", "stroke": "black", "strokeWidth": 1.5},
     "encoding": {"y": {"datum": 104.14}, "y2": {"datum": 112.7}}
    },
    {
     "data": {"values": [{"t": "... vil jeg være med til at beskytte andre fra corona-virussen"}]},
     "mark": {"type": "text", "fontSize": 22.5, "baseline": "middle", "align": "center", "color": "black"},
     "encoding": {"y": {"datum": 108.42}, "text": {"field": "t"}}
    }
   ]
  },
  {
   "data": {"name": "p2"},
   "encoding": {
    "x": {"field": "d", "type": "ordinal", "title": null, "scale": {"domain": ["13/5","14/5","15/5","16/5","17/5","18/5","19/5","20/5","21/5","22/5","23/5","24/5","25/5","26/5","27/5","28/5","29/5","30/5","31/5","1/6","2/6","3/6","4/6","5/6","6/6","7/6","8/6","9/6","10/6","11/6","12/6","13/6","14/6","15/6","16/6","17/6","18/6","19/6","20/6","21/6","22/6","23/6","24/6","25/6","26/6","27/6","28/6","29/6","30/6","1/7","2/7","3/7","4/7","5/7","6/7","7/7","8/7","9/7","10/7","11/7","12/7","13/7","14/7","15/7","16/7","17/7","18/7","19/7","20/7","21/7","22/7","23/7","24/7","25/7","26/7","27/7","28/7","29/7","30/7","31/7","1/8","2/8"], "paddingInner": 0.3, "paddingOuter": 1.6}},
    "order": {"value": null}
   },
   "layer": [
    {
     "mark": {"type": "line", "color": "black", "strokeWidth": 1.6},
     "encoding": {"y": {"field": "m", "type": "quantitative", "scale": {"domain": [0.769, 7.764], "nice": false, "zero": false},
      "axis": {"orient": "right", "title": "Gennemsnit", "values": [1,2,3,4,5,6,7], "labelAngle": -90, "labelAlign": "center", "labelBaseline": "top", "labelFontSize": 19, "tickSize": 10, "labelPadding": 7, "titleFontSize": 20, "titleAngle": -90, "titleBaseline": "top", "titlePadding": 3, "titleY": 212}}}
    },
    {
     "transform": [{"fold": ["lo","hi"], "as": ["ck","cv"]}],
     "mark": {"type": "line", "color": "black", "strokeWidth": 1.3, "strokeDash": [5,4]},
     "encoding": {"y": {"field": "cv", "type": "quantitative", "scale": {"domain": [0.769, 7.764], "nice": false, "zero": false},
      "axis": {"orient": "right", "title": "Gennemsnit", "values": [1,2,3,4,5,6,7], "labelAngle": -90, "labelAlign": "center", "labelBaseline": "top", "labelFontSize": 19, "tickSize": 10, "labelPadding": 7, "titleFontSize": 20, "titleAngle": -90, "titleBaseline": "top", "titlePadding": 3, "titleY": 212}},
      "detail": {"field": "ck"}}
    }
   ]
  }
 ],
 "resolve": {"scale": {"y": "independent"}}
}
],
"resolve": {"scale": {"color": "independent"}, "legend": {"color": "independent"}},
"config": {
 "font": "Liberation Sans",
 "view": {"stroke": "black", "strokeWidth": 1.5},
 "axis": {"labelColor": "black", "tickColor": "black", "titleColor": "black", "titleFontWeight": "normal", "grid": false, "domain": false, "tickWidth": 1},
 "legend": {"labelColor": "black"}
}
}
